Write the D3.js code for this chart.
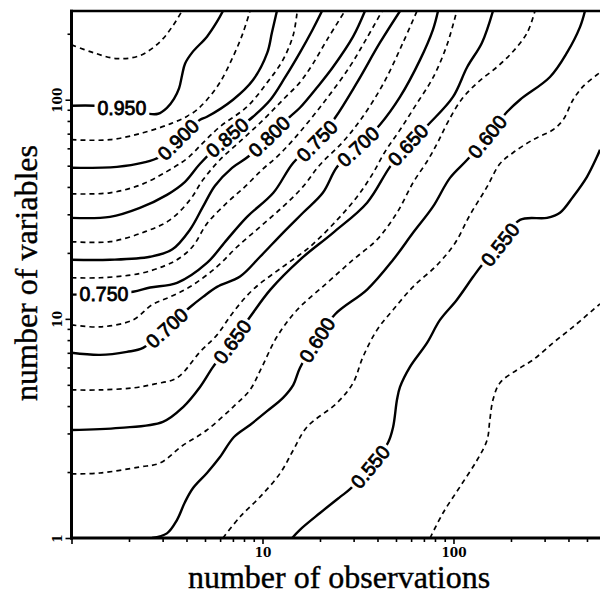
<!DOCTYPE html>
<html>
<head>
<meta charset="utf-8">
<script src="https://cdn.jsdelivr.net/npm/d3@7"></script>
<style>
  body { margin: 0; background: #fff; }
  svg { display: block; }
</style>
</head>
<body>
<svg id="chart" width="600" height="602"></svg>
<script>
// Contour lines of the accuracy surface, as [number of observations, number of variables] pairs.
const c975 = [[1,178],[1.30,164],[1.73,154],[2.28,159],[2.91,184],[3.40,218],[3.79,254]];
const c950 = [[1,93.9],[1.33,93.9],[1.84,91.9],[2.52,86.3],[2.84,86.3],[3.16,91.9],[3.44,101],[3.66,113],[3.79,129],[3.93,146],[4.28,164],[5.12,194],[5.78,227],[6.21,254]];
const c925 = [[1,65.7],[1.59,65.7],[2.37,70.7],[3.40,78.5],[4.33,87.2],[5.12,100],[5.99,120],[7.01,157],[7.91,202],[8.60,254]];
const c900 = [[1,48.9],[1.73,49.4],[2.37,51.6],[2.91,54.9],[3.61,65.7],[4.71,81.0],[5.12,83.6],[7.01,100],[8.92,123],[10.6,164],[11.2,202],[11.9,254]];
const c875 = [[1,37.2],[1.59,37.6],[2.37,41.3],[3.40,48.9],[4.07,54.3],[4.88,63.6],[5.99,75.3],[8.30,92.9],[10.6,120],[12.8,152],[14.5,198],[15.2,254]];
const c850 = [[1,28.9],[1.59,29.2],[2.28,32.1],[3.16,36.8],[3.93,42.2],[4.71,51.0],[6.52,67.1],[8.92,83.6],[11.0,100],[13.1,126],[15.7,164],[18.2,207],[20.5,254]];
const c825 = [[1,22.5],[1.59,22.5],[2.43,25.0],[3.28,28.3],[4.17,34.9],[4.88,43.1],[5.99,53.2],[7.81,65.7],[10.1,81.0],[12.8,100],[15.7,120],[18.2,144],[21.8,188],[27.0,254]];
const c800 = [[1,18.6],[1.59,18.6],[2.58,19.2],[3.36,20.7],[4.17,25.5],[4.88,32.5],[5.64,40.5],[6.93,48.9],[8.40,54.9],[10.8,67.8],[13.9,83.6],[15.7,91.9],[19.5,115],[23.4,141],[29.8,194],[34.4,254]];
const c775 = [[1,15.4],[1.41,15.4],[2.28,16.1],[3.09,17.5],[3.70,19.0],[4.33,21.5],[5.12,27.2],[6.52,33.9],[8.10,40.1],[9.94,47.9],[11.9,54.9],[14.5,65.7],[20.5,94.9],[28.4,140],[34.8,188],[42.3,254]];
const c750 = [[1,12.9],[1.46,13.0],[2.10,13.3],[2.58,13.9],[3.57,14.6],[5.12,18.0],[6.52,23.0],[8.30,29.2],[11.4,37.6],[14.5,51.6],[19.3,65.0],[24.0,82.7],[31.3,120],[41.2,182],[52.5,254]];
const c725 = [[1,9.39],[1.41,9.19],[2.10,9.89],[2.64,11.6],[3.28,12.6],[4.17,14.0],[5.78,17.3],[7.36,21.3],[9.71,26.3],[12.8,32.5],[16.3,40.1],[20.0,50.5],[26.1,63.6],[33.2,82.7],[43.3,120],[54.4,182],[64.4,254]];
const c700 = [[1,7.00],[1.41,6.85],[1.95,7.07],[2.37,7.37],[3.16,9.10],[4.17,11.3],[4.88,12.6],[5.78,14.0],[7.63,15.6],[9.71,19.2],[12.8,24.7],[16.3,30.5],[20.7,37.6],[24.6,49.4],[31.6,61.0],[41.2,76.9],[52.5,103],[66.8,152],[78.1,209],[83.0,254]];
const c675 = [[1,4.74],[1.41,4.74],[2.10,4.84],[2.74,5.05],[3.57,5.38],[4.71,7.07],[5.78,8.45],[7.01,10.7],[8.92,13.6],[12.8,17.3],[17.7,21.3],[24.6,28.3],[31.3,36.1],[37.5,45.5],[43.8,57.9],[52.5,72.9],[63.7,94.9],[78.1,126],[92.5,178],[104,254]];
const c650 = [[1,3.11],[1.79,3.18],[3.01,3.39],[3.84,3.96],[4.71,4.89],[5.51,6.04],[6.93,7.85],[8.60,10.2],[11.0,13.6],[15.7,18.6],[23.4,24.7],[35.3,33.9],[46.5,49.4],[57.8,62.3],[75.4,78.5],[99.4,103],[118,141],[141,182],[161,254]];
const c625 = [[1,1.96],[1.41,1.98],[2.28,2.11],[2.91,2.20],[3.79,2.63],[5.12,3.11],[7.01,3.96],[8.60,4.74],[9.94,6.04],[11.9,8.28],[15.2,11.0],[21.8,14.6],[29.8,18.6],[39.8,23.0],[50.6,30.5],[61.4,41.8],[73.6,53.2],[83.0,64.3],[93.6,79.3],[110,100],[134,120],[169,141],[205,166],[243,202],[267,254]];
const c600 = [[2.64,1],[3.16,1.05],[3.57,1.21],[3.93,1.46],[4.33,1.69],[5.12,1.98],[5.99,2.34],[7.09,2.89],[8.60,3.28],[10.6,3.80],[12.8,4.36],[14.5,5.00],[15.7,5.97],[19.3,8.02],[24.0,10.5],[35.3,13.6],[48.3,18.6],[61.4,24.7],[78.1,32.5],[95.9,44.0],[118,53.2],[150,67.8],[191,88.1],[223,100],[320,127],[393,164],[460,215],[488,254]];
const c575 = [[6.21,1],[7.63,1.25],[9.71,1.54],[12.4,1.98],[14.5,2.52],[17.1,3.21],[24.6,4.14],[29.8,5.10],[33.6,6.71],[39.8,8.91],[48.3,11.0],[61.4,14.0],[82.0,17.6],[102,22.2],[122,29.8],[150,40.1],[175,51.0],[205,57.3],[261,65.7],[332,72.9],[375,81.0],[423,100],[477,115],[564,130],[585,133]];
const c550 = [[14.3,1],[15.7,1.09],[20.0,1.30],[25.5,1.54],[28.7,1.67],[36.6,2.11],[45.4,2.72],[48.3,3.21],[50.6,4.27],[52.5,4.89],[59.2,6.04],[72.7,7.77],[85.0,9.89],[104,12.2],[127,15.6],[141,17.6],[175,21.8],[223,28.3],[309,28.9],[361,30.5],[423,36.1],[500,44.5],[564,54.9],[585,59.1]];
const c525 = [[75.4,1],[88.1,1.30],[108,1.71],[133,2.27],[150,2.80],[155,3.46],[161,4.27],[175,5.10],[215,5.85],[261,6.50],[332,7.77],[423,9.19],[538,11.0],[585,11.7]];

const levels = [0.975, 0.950, 0.925, 0.900, 0.875, 0.850, 0.825, 0.800, 0.775, 0.750,
                0.725, 0.700, 0.675, 0.650, 0.625, 0.600, 0.575, 0.550, 0.525];
const contourLines = [c975, c950, c925, c900, c875, c850, c825, c800, c775, c750,
                      c725, c700, c675, c650, c625, c600, c575, c550, c525];

// Inline labels: level and the point on its line where the label sits.
const labelLevels = [0.950, 0.900, 0.850, 0.800, 0.750, 0.750, 0.700, 0.700, 0.650, 0.650, 0.600, 0.600, 0.550, 0.550];
const labelPoints = [[1.84,91.9],[3.61,65.7],[6.52,67.1],[10.8,67.8],[1.48,13.0],[19.3,65.0],[3.16,9.10],[31.6,61.0],
                     [6.93,7.85],[57.8,62.3],[19.3,8.02],[150,67.8],[36.6,2.11],[175,21.8]];

// Axis ticks
const obsDomain = [1, 585];
const varDomain = [1, 254];
const obsTicks = [1,2,3,4,5,6,7,8,9,10,20,30,40,50,60,70,80,90,100,200,300,400,500];
const varTicks = [1,2,3,4,5,6,7,8,9,10,20,30,40,50,60,70,80,90,100,200];
const majorTicks = [1, 10, 100];
const obsTickLabels = [10, 100];
const varTickLabels = [1, 10, 100];

const plot = { left: 71.5, right: 600, top: 11, bottom: 538 };

const x = d3.scaleLog().domain(obsDomain).range([plot.left, plot.right]);
const y = d3.scaleLog().domain(varDomain).range([plot.bottom, plot.top]);

const svg = d3.select('#chart');
const defs = svg.append('defs');

defs.append('clipPath').attr('id', 'plotArea')
  .append('rect')
  .attr('x', plot.left).attr('y', plot.top)
  .attr('width', plot.right - plot.left).attr('height', plot.bottom - plot.top);

const gapMask = defs.append('mask').attr('id', 'labelGaps')
  .attr('maskUnits', 'userSpaceOnUse')
  .attr('x', 0).attr('y', 0).attr('width', 600).attr('height', 602);
gapMask.append('rect').attr('width', 600).attr('height', 602).attr('fill', '#fff');

const line = d3.line()
  .x(d => x(d[0]))
  .y(d => y(d[1]))
  .curve(d3.curveCatmullRom.alpha(0.5));

const isSolid = lv => Math.round(lv * 1000) % 50 === 0;

const contourG = svg.append('g').attr('clip-path', 'url(#plotArea)');
const linesG = contourG.append('g').attr('mask', 'url(#labelGaps)');

const pathByLevel = new Map();
levels.forEach((lv, i) => {
  const solid = isSolid(lv);
  const p = linesG.append('path')
    .attr('d', line(contourLines[i]))
    .attr('fill', 'none')
    .attr('stroke', '#000')
    .attr('stroke-width', solid ? 2.4 : 1.7)
    .attr('stroke-linejoin', 'round')
    .attr('stroke-dasharray', solid ? null : '5,4');
  pathByLevel.set(lv, p.node());
});

// Labels sit on their line, turned along it, with the line cut away beneath them.
const labelG = contourG.append('g');
labelLevels.forEach((lv, i) => {
  const node = pathByLevel.get(lv);
  const total = node.getTotalLength();
  const tx = x(labelPoints[i][0]), ty = y(labelPoints[i][1]);
  let best = 0, bestD = Infinity;
  for (let l = 0; l <= total; l += 0.5) {
    const pt = node.getPointAtLength(l);
    const d = (pt.x - tx) ** 2 + (pt.y - ty) ** 2;
    if (d < bestD) { bestD = d; best = l; }
  }
  const pc = node.getPointAtLength(best);
  const p0 = node.getPointAtLength(Math.max(0, best - 14));
  const p1 = node.getPointAtLength(Math.min(total, best + 14));
  let ang = Math.atan2(p1.y - p0.y, p1.x - p0.x) * 180 / Math.PI;
  if (ang > 90) ang -= 180;
  if (ang < -90) ang += 180;
  if (Math.abs(ang) < 12) ang = 0;   // near-level labels are drawn level
  const tf = `translate(${pc.x},${pc.y}) rotate(${ang})`;
  const t = labelG.append('text')
    .attr('transform', tf)
    .attr('text-anchor', 'middle')
    .attr('dy', '0.36em')
    .attr('font-family', '"Liberation Sans", Arial, sans-serif')
    .attr('font-size', 19.5)
    .attr('fill', '#000')
    .attr('stroke', '#000')
    .attr('stroke-width', 0.8)
    .text(lv.toFixed(3));
  const w = t.node().getComputedTextLength();
  gapMask.append('rect')
    .attr('transform', tf)
    .attr('x', -w / 2 - 3).attr('y', -9)
    .attr('width', w + 6).attr('height', 18)
    .attr('fill', '#000');
});

// Axes
const tickFont = '"DejaVu Serif", serif';

const xAxis = d3.axisBottom(x)
  .tickValues(obsTicks)
  .tickSize(4)
  .tickSizeOuter(0)
  .tickPadding(6)
  .tickFormat(d => obsTickLabels.includes(d) ? String(d) : '');
const gx = svg.append('g').attr('transform', `translate(0,${plot.bottom})`).call(xAxis);
gx.select('.domain').remove();
gx.selectAll('.tick line').attr('stroke', '#000').attr('stroke-width', 1.6)
  .attr('y2', d => majorTicks.includes(d) ? 6 : 4);
gx.selectAll('.tick text')
  .attr('font-family', tickFont).attr('font-weight', 'bold').attr('font-size', 12).attr('fill', '#000');

const yAxis = d3.axisLeft(y)
  .tickValues(varTicks)
  .tickSize(4)
  .tickSizeOuter(0)
  .tickFormat(d => varTickLabels.includes(d) ? String(d) : '');
const gy = svg.append('g').attr('transform', `translate(${plot.left},0)`).call(yAxis);
gy.select('.domain').remove();
gy.selectAll('.tick line').attr('stroke', '#000').attr('stroke-width', 1.6)
  .attr('x2', d => majorTicks.includes(d) ? -6 : -4);
gy.selectAll('.tick text')
  .attr('transform', 'rotate(-90)')
  .attr('x', 0).attr('y', -9.5).attr('dy', 0)
  .attr('text-anchor', 'middle')
  .attr('font-family', tickFont).attr('font-weight', 'bold').attr('font-size', 12).attr('fill', '#000');

// Frame lines
svg.append('line').attr('x1', plot.left).attr('x2', plot.left)
  .attr('y1', plot.top - 1.2).attr('y2', plot.bottom + 1.5)
  .attr('stroke', '#000').attr('stroke-width', 3);
svg.append('line').attr('x1', plot.left - 1.5).attr('x2', plot.right)
  .attr('y1', plot.bottom).attr('y2', plot.bottom)
  .attr('stroke', '#000').attr('stroke-width', 3);
svg.append('line').attr('x1', plot.left - 1.5).attr('x2', plot.right)
  .attr('y1', plot.top).attr('y2', plot.top)
  .attr('stroke', '#000').attr('stroke-width', 2.5);

// Axis titles
const titleFont = '"Liberation Serif", "Times New Roman", serif';
svg.append('text')
  .attr('x', 339).attr('y', 588)
  .attr('text-anchor', 'middle')
  .attr('font-family', titleFont).attr('font-size', 32)
  .attr('fill', '#000').attr('stroke', '#000').attr('stroke-width', 0.4)
  .text('number of observations');
svg.append('text')
  .attr('transform', `translate(37,${273}) rotate(-90)`)
  .attr('text-anchor', 'middle')
  .attr('font-family', titleFont).attr('font-size', 32)
  .attr('fill', '#000').attr('stroke', '#000').attr('stroke-width', 0.4)
  .text('number of variables');
</script>
</body>
</html>
